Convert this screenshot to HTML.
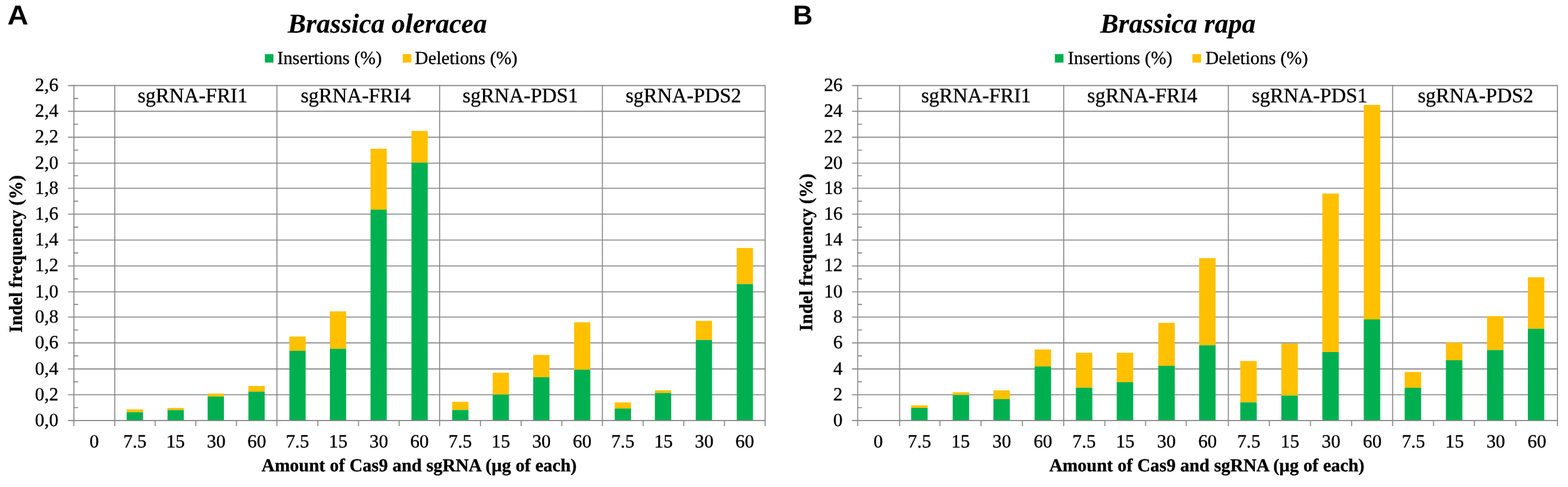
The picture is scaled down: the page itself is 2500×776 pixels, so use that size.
<!DOCTYPE html><html><head><meta charset="utf-8"><title>Indel frequency</title><style>
html,body{margin:0;padding:0;background:#fff;}
svg{display:block;text-rendering:geometricPrecision;}
.s{font-family:"Liberation Serif","Times New Roman",serif;fill:#000;stroke:#000;stroke-width:0.35px;}
.b{font-weight:bold;}
.ti{font-weight:bold;font-style:italic;font-size:43.5px;stroke-width:0.15px;}
.lg{font-size:29.3px;}
.gr{font-size:33px;}
.tk{font-size:29.8px;}
.ax{font-size:29px;font-weight:bold;}
.lt{font-family:"Liberation Sans",Arial,sans-serif;font-weight:bold;font-size:43.5px;fill:#000;}
</style></head><body>
<svg width="2500" height="776" viewBox="0 0 2500 776">
<rect width="2500" height="776" fill="#fff"/>
<path d="M108.5 628.95H1219.93M108.5 587.86H1219.93M108.5 546.41H1219.93M108.5 505.22H1219.93M108.5 465.04H1219.93M108.5 423.77H1219.93M108.5 382.5H1219.93M108.5 341.23H1219.93M108.5 300.05H1219.93M108.5 259.95H1219.93M108.5 218.66H1219.93M108.5 177.4H1219.93M108.5 136.38H1219.93" stroke="#868686" stroke-width="1.59" fill="none"/>
<rect x="201.98" y="652.3" width="25.93" height="4.6" fill="#FFC000"/>
<rect x="201.98" y="656.9" width="25.93" height="13.1" fill="#00B050"/>
<rect x="267.13" y="650.1" width="25.93" height="3.3" fill="#FFC000"/>
<rect x="267.13" y="653.4" width="25.93" height="16.6" fill="#00B050"/>
<rect x="331.08" y="627.2" width="25.93" height="4.7" fill="#FFC000"/>
<rect x="331.08" y="631.9" width="25.93" height="38.1" fill="#00B050"/>
<rect x="396.08" y="615" width="25.93" height="9.1" fill="#FFC000"/>
<rect x="396.08" y="624.1" width="25.93" height="45.9" fill="#00B050"/>
<rect x="461.43" y="536.3" width="25.93" height="22.7" fill="#FFC000"/>
<rect x="461.43" y="559" width="25.93" height="111" fill="#00B050"/>
<rect x="525.93" y="496.2" width="25.93" height="59.6" fill="#FFC000"/>
<rect x="525.93" y="555.8" width="25.93" height="114.2" fill="#00B050"/>
<rect x="590.73" y="237" width="25.93" height="97.1" fill="#FFC000"/>
<rect x="590.73" y="334.1" width="25.93" height="335.9" fill="#00B050"/>
<rect x="656.03" y="208.6" width="25.93" height="50.7" fill="#FFC000"/>
<rect x="656.03" y="259.3" width="25.93" height="410.7" fill="#00B050"/>
<rect x="720.93" y="640.3" width="25.93" height="13" fill="#FFC000"/>
<rect x="720.93" y="653.3" width="25.93" height="16.7" fill="#00B050"/>
<rect x="785.53" y="593.9" width="25.93" height="34.8" fill="#FFC000"/>
<rect x="785.53" y="628.7" width="25.93" height="41.3" fill="#00B050"/>
<rect x="850.13" y="565.6" width="25.93" height="35.5" fill="#FFC000"/>
<rect x="850.13" y="601.1" width="25.93" height="68.9" fill="#00B050"/>
<rect x="915.28" y="513.5" width="25.93" height="75.6" fill="#FFC000"/>
<rect x="915.28" y="589.1" width="25.93" height="80.9" fill="#00B050"/>
<rect x="980.13" y="641.3" width="25.93" height="9.7" fill="#FFC000"/>
<rect x="980.13" y="651" width="25.93" height="19" fill="#00B050"/>
<rect x="1044.18" y="622" width="25.93" height="4.2" fill="#FFC000"/>
<rect x="1044.18" y="626.2" width="25.93" height="43.8" fill="#00B050"/>
<rect x="1109.38" y="511.3" width="25.93" height="30.4" fill="#FFC000"/>
<rect x="1109.38" y="541.7" width="25.93" height="128.3" fill="#00B050"/>
<rect x="1174.63" y="395.1" width="25.93" height="57.5" fill="#FFC000"/>
<rect x="1174.63" y="452.6" width="25.93" height="217.4" fill="#00B050"/>
<path d="M108.5 670.1H1219.93M117.76 649.53h6.8M117.76 608.4h6.8M117.76 567.13h6.8M117.76 525.82h6.8M117.76 485.13h6.8M117.76 444.4h6.8M117.76 403.13h6.8M117.76 361.87h6.8M117.76 320.64h6.8M117.76 280h6.8M117.76 239.31h6.8M117.76 198.03h6.8M117.76 156.89h6.8M117.76 135.58V679M182.95 135.58V679M441.5 135.58V679M700.95 135.58V679M960.47 135.58V679M1219.93 135.58V679M247.43 670V679M312.26 670V679M377.09 670V679M506.76 670V679M571.59 670V679M636.43 670V679M766.1 670V679M830.93 670V679M895.76 670V679M1025.43 670V679M1090.26 670V679M1155.1 670V679" stroke="#868686" stroke-width="1.59" fill="none"/>
<text class="s tk" x="93.05" y="678.8" text-anchor="end">0,0</text>
<text class="s tk" x="93.05" y="637.65" text-anchor="end">0,2</text>
<text class="s tk" x="93.05" y="596.56" text-anchor="end">0,4</text>
<text class="s tk" x="93.05" y="555.11" text-anchor="end">0,6</text>
<text class="s tk" x="93.05" y="513.92" text-anchor="end">0,8</text>
<text class="s tk" x="93.05" y="473.74" text-anchor="end">1,0</text>
<text class="s tk" x="93.05" y="432.47" text-anchor="end">1,2</text>
<text class="s tk" x="93.05" y="391.2" text-anchor="end">1,4</text>
<text class="s tk" x="93.05" y="349.93" text-anchor="end">1,6</text>
<text class="s tk" x="93.05" y="308.75" text-anchor="end">1,8</text>
<text class="s tk" x="93.05" y="268.65" text-anchor="end">2,0</text>
<text class="s tk" x="93.05" y="227.36" text-anchor="end">2,2</text>
<text class="s tk" x="93.05" y="186.1" text-anchor="end">2,4</text>
<text class="s tk" x="93.05" y="145.08" text-anchor="end">2,6</text>
<text class="s tk" x="150.18" y="712.6" text-anchor="middle">0</text>
<text class="s tk" x="215.01" y="712.6" text-anchor="middle">7.5</text>
<text class="s tk" x="279.84" y="712.6" text-anchor="middle">15</text>
<text class="s tk" x="344.68" y="712.6" text-anchor="middle">30</text>
<text class="s tk" x="409.51" y="712.6" text-anchor="middle">60</text>
<text class="s tk" x="474.34" y="712.6" text-anchor="middle">7.5</text>
<text class="s tk" x="539.18" y="712.6" text-anchor="middle">15</text>
<text class="s tk" x="604.01" y="712.6" text-anchor="middle">30</text>
<text class="s tk" x="668.85" y="712.6" text-anchor="middle">60</text>
<text class="s tk" x="733.68" y="712.6" text-anchor="middle">7.5</text>
<text class="s tk" x="798.51" y="712.6" text-anchor="middle">15</text>
<text class="s tk" x="863.35" y="712.6" text-anchor="middle">30</text>
<text class="s tk" x="928.18" y="712.6" text-anchor="middle">60</text>
<text class="s tk" x="993.01" y="712.6" text-anchor="middle">7.5</text>
<text class="s tk" x="1057.85" y="712.6" text-anchor="middle">15</text>
<text class="s tk" x="1122.68" y="712.6" text-anchor="middle">30</text>
<text class="s tk" x="1187.51" y="712.6" text-anchor="middle">60</text>
<text class="s gr" transform="translate(219.47 162.75) scale(0.985 1.0)">sgRNA-FRI1</text>
<text class="s gr" transform="translate(479.47 162.75) scale(0.985 1.0)">sgRNA-FRI4</text>
<text class="s gr" transform="translate(737.57 162.75) scale(0.985 1.0)">sgRNA-PDS1</text>
<text class="s gr" transform="translate(997.47 162.75) scale(0.985 1.0)">sgRNA-PDS2</text>
<text class="s ti" x="458.79" y="51.8">Brassica oleracea</text>
<text class="lt" transform="translate(11.74 38.9) scale(1.066 1.0)">A</text>
<rect x="422.3" y="86.2" width="13.7" height="13.5" fill="#00B050"/>
<rect x="642.1" y="86.2" width="13.7" height="13.5" fill="#FFC000"/>
<text class="s lg" x="441.95" y="101.8">Insertions (%)</text>
<text class="s lg" x="661.55" y="101.8">Deletions (%)</text>
<text class="s ax" x="417.01" y="750.6">Amount of Cas9 and sgRNA (µg of each)</text>
<text class="s ax" text-anchor="middle" transform="translate(34.8 404.5) rotate(-90) scale(1 1.03)">Indel frequency (%)</text>
<path d="M1358.4 628.95H2483.25M1358.4 587.86H2483.25M1358.4 546.41H2483.25M1358.4 505.22H2483.25M1358.4 465.04H2483.25M1358.4 423.77H2483.25M1358.4 382.5H2483.25M1358.4 341.23H2483.25M1358.4 300.05H2483.25M1358.4 259.95H2483.25M1358.4 218.66H2483.25M1358.4 177.4H2483.25M1358.4 136.38H2483.25" stroke="#868686" stroke-width="1.59" fill="none"/>
<rect x="1452.67" y="646" width="26.25" height="4" fill="#FFC000"/>
<rect x="1452.67" y="650" width="26.25" height="20" fill="#00B050"/>
<rect x="1518.92" y="625.1" width="26.25" height="4.4" fill="#FFC000"/>
<rect x="1518.92" y="629.5" width="26.25" height="40.5" fill="#00B050"/>
<rect x="1583.87" y="622" width="26.25" height="14" fill="#FFC000"/>
<rect x="1583.87" y="636" width="26.25" height="34" fill="#00B050"/>
<rect x="1649.57" y="556.9" width="26.25" height="27.1" fill="#FFC000"/>
<rect x="1649.57" y="584" width="26.25" height="86" fill="#00B050"/>
<rect x="1715.37" y="562.1" width="26.25" height="55.7" fill="#FFC000"/>
<rect x="1715.37" y="617.8" width="26.25" height="52.2" fill="#00B050"/>
<rect x="1780.52" y="562.1" width="26.25" height="46.9" fill="#FFC000"/>
<rect x="1780.52" y="609" width="26.25" height="61" fill="#00B050"/>
<rect x="1846.77" y="514.4" width="26.25" height="68.5" fill="#FFC000"/>
<rect x="1846.77" y="582.9" width="26.25" height="87.1" fill="#00B050"/>
<rect x="1911.87" y="411.3" width="26.25" height="138.9" fill="#FFC000"/>
<rect x="1911.87" y="550.2" width="26.25" height="119.8" fill="#00B050"/>
<rect x="1977.47" y="575.3" width="26.25" height="65.9" fill="#FFC000"/>
<rect x="1977.47" y="641.2" width="26.25" height="28.8" fill="#00B050"/>
<rect x="2042.97" y="547.3" width="26.25" height="83" fill="#FFC000"/>
<rect x="2042.97" y="630.3" width="26.25" height="39.7" fill="#00B050"/>
<rect x="2108.32" y="308.4" width="26.25" height="252.6" fill="#FFC000"/>
<rect x="2108.32" y="561" width="26.25" height="109" fill="#00B050"/>
<rect x="2174.37" y="167.2" width="26.25" height="341.8" fill="#FFC000"/>
<rect x="2174.37" y="509" width="26.25" height="161" fill="#00B050"/>
<rect x="2239.57" y="592.7" width="26.25" height="25.2" fill="#FFC000"/>
<rect x="2239.57" y="617.9" width="26.25" height="52.1" fill="#00B050"/>
<rect x="2305.32" y="545.9" width="26.25" height="28.1" fill="#FFC000"/>
<rect x="2305.32" y="574" width="26.25" height="96" fill="#00B050"/>
<rect x="2370.92" y="503.7" width="26.25" height="54.1" fill="#FFC000"/>
<rect x="2370.92" y="557.8" width="26.25" height="112.2" fill="#00B050"/>
<rect x="2435.97" y="441.8" width="26.25" height="82.1" fill="#FFC000"/>
<rect x="2435.97" y="523.9" width="26.25" height="146.1" fill="#00B050"/>
<path d="M1358.4 670.1H2483.25M1367.49 649.53h6.8M1367.49 608.4h6.8M1367.49 567.13h6.8M1367.49 525.82h6.8M1367.49 485.13h6.8M1367.49 444.4h6.8M1367.49 403.13h6.8M1367.49 361.87h6.8M1367.49 320.64h6.8M1367.49 280h6.8M1367.49 239.31h6.8M1367.49 198.03h6.8M1367.49 156.89h6.8M1367.49 135.58V679M1434.39 135.58V679M1696 135.58V679M1958.47 135.58V679M2220.43 135.58V679M2483.25 135.58V679M1498.6 670V679M1564.1 670V679M1630.2 670V679M1761.6 670V679M1826.5 670V679M1891.4 670V679M2023.82 670V679M2089.45 670V679M2155.09 670V679M2285.6 670V679M2350.7 670V679M2416.9 670V679" stroke="#868686" stroke-width="1.59" fill="none"/>
<text class="s tk" x="1343.45" y="678.8" text-anchor="end">0</text>
<text class="s tk" x="1343.45" y="637.65" text-anchor="end">2</text>
<text class="s tk" x="1343.45" y="596.56" text-anchor="end">4</text>
<text class="s tk" x="1343.45" y="555.11" text-anchor="end">6</text>
<text class="s tk" x="1343.45" y="513.92" text-anchor="end">8</text>
<text class="s tk" x="1343.45" y="473.74" text-anchor="end">10</text>
<text class="s tk" x="1343.45" y="432.47" text-anchor="end">12</text>
<text class="s tk" x="1343.45" y="391.2" text-anchor="end">14</text>
<text class="s tk" x="1343.45" y="349.93" text-anchor="end">16</text>
<text class="s tk" x="1343.45" y="308.75" text-anchor="end">18</text>
<text class="s tk" x="1343.45" y="268.65" text-anchor="end">20</text>
<text class="s tk" x="1343.45" y="227.36" text-anchor="end">22</text>
<text class="s tk" x="1343.45" y="186.1" text-anchor="end">24</text>
<text class="s tk" x="1343.45" y="145.08" text-anchor="end">26</text>
<text class="s tk" x="1400.31" y="712.6" text-anchor="middle">0</text>
<text class="s tk" x="1465.94" y="712.6" text-anchor="middle">7.5</text>
<text class="s tk" x="1531.57" y="712.6" text-anchor="middle">15</text>
<text class="s tk" x="1597.21" y="712.6" text-anchor="middle">30</text>
<text class="s tk" x="1662.84" y="712.6" text-anchor="middle">60</text>
<text class="s tk" x="1728.47" y="712.6" text-anchor="middle">7.5</text>
<text class="s tk" x="1794.1" y="712.6" text-anchor="middle">15</text>
<text class="s tk" x="1859.74" y="712.6" text-anchor="middle">30</text>
<text class="s tk" x="1925.37" y="712.6" text-anchor="middle">60</text>
<text class="s tk" x="1991" y="712.6" text-anchor="middle">7.5</text>
<text class="s tk" x="2056.64" y="712.6" text-anchor="middle">15</text>
<text class="s tk" x="2122.27" y="712.6" text-anchor="middle">30</text>
<text class="s tk" x="2187.9" y="712.6" text-anchor="middle">60</text>
<text class="s tk" x="2253.53" y="712.6" text-anchor="middle">7.5</text>
<text class="s tk" x="2319.17" y="712.6" text-anchor="middle">15</text>
<text class="s tk" x="2384.8" y="712.6" text-anchor="middle">30</text>
<text class="s tk" x="2450.43" y="712.6" text-anchor="middle">60</text>
<text class="s gr" transform="translate(1468.67 162.75) scale(0.985 1.0)">sgRNA-FRI1</text>
<text class="s gr" transform="translate(1733.57 162.75) scale(0.985 1.0)">sgRNA-FRI4</text>
<text class="s gr" transform="translate(1996.07 162.75) scale(0.985 1.0)">sgRNA-PDS1</text>
<text class="s gr" transform="translate(2260.47 162.75) scale(0.985 1.0)">sgRNA-PDS2</text>
<text class="s ti" x="1754.19" y="51.8">Brassica rapa</text>
<text class="lt" x="1264.19" y="38.9">B</text>
<rect x="1681.9" y="86.2" width="13.7" height="13.5" fill="#00B050"/>
<rect x="1901.2" y="86.2" width="13.7" height="13.5" fill="#FFC000"/>
<text class="s lg" x="1702.45" y="101.8">Insertions (%)</text>
<text class="s lg" x="1921.95" y="101.8">Deletions (%)</text>
<text class="s ax" x="1673.01" y="750.6">Amount of Cas9 and sgRNA (µg of each)</text>
<text class="s ax" text-anchor="middle" transform="translate(1295.1 402.1) rotate(-90) scale(1 1.03)">Indel frequency (%)</text>
</svg></body></html>
